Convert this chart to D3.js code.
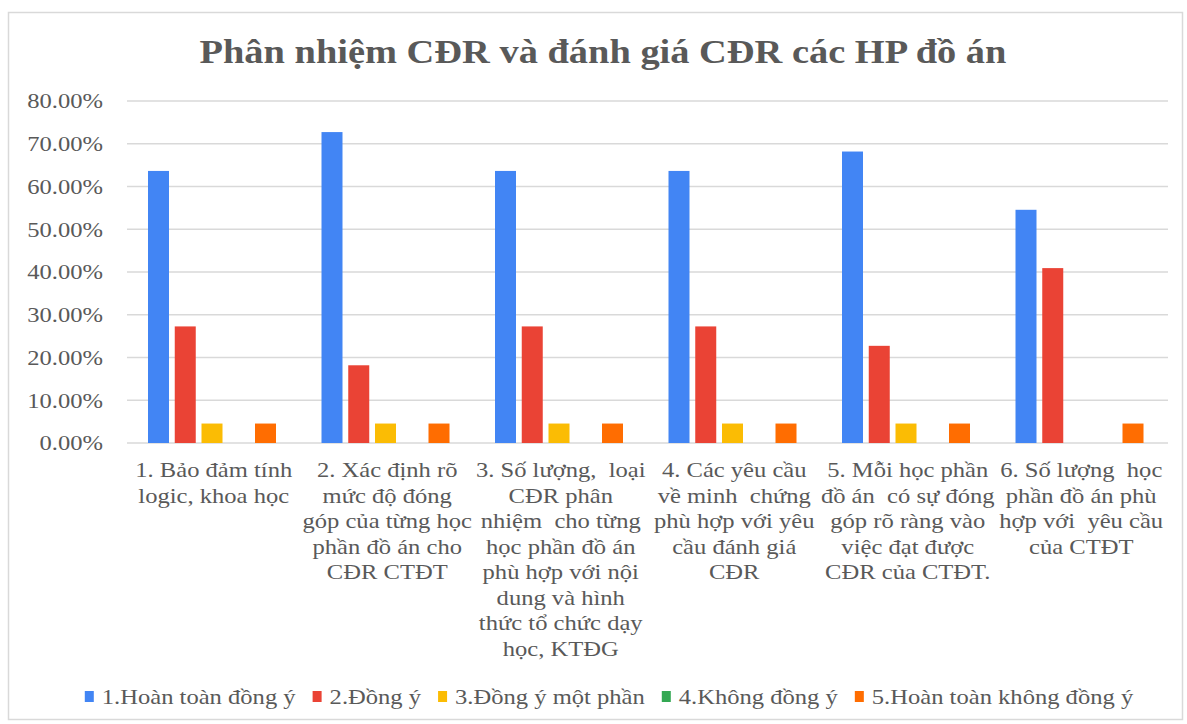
<!DOCTYPE html>
<html>
<head>
<meta charset="utf-8">
<script src="https://d3js.org/d3.v7.min.js"></script>
<style>
  body { margin: 0; background: #fff; }
  svg, svg text { font-family: "Liberation Serif", "Times New Roman", "DejaVu Serif", serif !important; }
  svg text { fill: #595959; white-space: pre; }
</style>
</head>
<body>
<div id="chart"></div>
<script>
// Phân nhiệm CĐR - grouped bars
const title = "Phân nhiệm CĐR và đánh giá CĐR các HP đồ án";

const categories = [
    ["1. Bảo đảm tính", "logic, khoa học"],
    ["2. Xác định rõ", "mức độ đóng", "góp của từng học", "phần đồ án cho", "CĐR CTĐT"],
    ["3. Số lượng,  loại", "CĐR phân", "nhiệm  cho từng", "học phần đồ án", "phù hợp với nội", "dung và hình", "thức tổ chức dạy", "học, KTĐG"],
    ["4. Các yêu cầu", "về minh  chứng", "phù hợp với yêu", "cầu đánh giá", "CĐR"],
    ["5. Mỗi học phần", "đồ án  có sự đóng", "góp rõ ràng vào", "việc đạt được", "CĐR của CTĐT."],
    ["6. Số lượng  học", "phần đồ án phù", "hợp với  yêu cầu", "của CTĐT"]
];

const seriesNames = ["1.Hoàn toàn đồng ý", "2.Đồng ý", "3.Đồng ý một phần", "4.Không đồng ý", "5.Hoàn toàn không đồng ý"];
const seriesColors = ["#4285F4", "#EA4335", "#FBBC04", "#34A853", "#FF6D01"];

const hoanToanDongY = [0.6364, 0.7273, 0.6364, 0.6364, 0.6818, 0.5455];
const dongY = [0.2727, 0.1818, 0.2727, 0.2727, 0.2273, 0.4091];
const dongYMotPhan = [0.0455, 0.0455, 0.0455, 0.0455, 0.0455, 0];
const khongDongY = [0, 0, 0, 0, 0, 0];
const hoanToanKhongDongY = [0.0455, 0.0455, 0.0455, 0.0455, 0.0455, 0.0455];

const seriesValues = [hoanToanDongY, dongY, dongYMotPhan, khongDongY, hoanToanKhongDongY];
const yTicks = [0, 0.1, 0.2, 0.3, 0.4, 0.5, 0.6, 0.7, 0.8];

const width = 1187, height = 724;
const K = 1.17; // horizontal stretch of the source picture

// stretch text horizontally like the reference, returns new width
const stretch = (sel, k) => {
    let total = 0;
    sel.each(function () {
        const w = this.getComputedTextLength();
        this.setAttribute('textLength', w * k);
        this.setAttribute('lengthAdjust', 'spacingAndGlyphs');
        total = w * k;
    });
    return total;
};

const svg = d3.select('#chart').append('svg')
    .attr('width', width)
    .attr('height', height)
    .attr('font-family', '"Liberation Serif", serif');

svg.append('rect')
    .attr('x', 8.5).attr('y', 12.5)
    .attr('width', 1174).attr('height', 707)
    .attr('fill', '#fff')
    .attr('stroke', '#d9d9d9')
    .attr('stroke-width', 1.5);

svg.append('text')
    .attr('x', 603).attr('y', 63)
    .attr('text-anchor', 'middle')
    .attr('font-size', 34)
    .attr('font-weight', 'bold')
    .text(title)
    .call(stretch, 1.13);

const x0 = d3.scaleBand()
    .domain(d3.range(categories.length))
    .range([127, 1168]);

const x1 = d3.scaleBand()
    .domain(d3.range(seriesNames.length))
    .range([21, 149])
    .paddingInner(0.215);

const y = d3.scaleLinear()
    .domain([0, 0.8])
    .range([443, 101]);

// gridlines
svg.append('g')
    .selectAll('line')
    .data(yTicks)
    .join('line')
    .attr('x1', 127).attr('x2', 1168)
    .attr('y1', d => y(d)).attr('y2', d => y(d))
    .attr('stroke', '#d9d9d9')
    .attr('stroke-width', 1.5);

// y axis labels
const yAxis = svg.append('g')
    .attr('transform', 'translate(103,0)')
    .call(d3.axisLeft(y).tickValues(yTicks).tickFormat(d3.format('.2%')).tickSize(0).tickPadding(0));
yAxis.attr('font-family', null).attr('font-size', null);
yAxis.select('.domain').remove();
yAxis.selectAll('text')
    .attr('font-size', 21)
    .attr('fill', null)
    .attr('dy', '0.33em')
    .call(stretch, K);

// bars
const groups = svg.append('g')
    .selectAll('g')
    .data(categories.map((c, i) => i))
    .join('g')
    .attr('transform', i => `translate(${x0(i)},0)`);

groups.selectAll('rect')
    .data(i => seriesValues.map((vals, s) => ({ s, v: vals[i] })))
    .join('rect')
    .attr('x', d => x1(d.s))
    .attr('width', x1.bandwidth())
    .attr('y', d => y(d.v))
    .attr('height', d => y(0) - y(d.v))
    .attr('fill', d => seriesColors[d.s]);

// category labels
categories.forEach((lines, i) => {
    const cx = x0(i) + x0.bandwidth() / 2;
    svg.append('g')
        .selectAll('text')
        .data(lines)
        .join('text')
        .attr('x', cx)
        .attr('y', (d, j) => 477 + j * 25.5)
        .attr('text-anchor', 'middle')
        .attr('font-size', 21)
        .text(d => d)
        .call(stretch, K);
});

// legend
const legend = svg.append('g');
const gap = 17;
let lx = 0;
seriesNames.forEach((name, s) => {
    const item = legend.append('g').attr('transform', `translate(${lx},0)`);
    item.append('rect')
        .attr('x', 0).attr('y', 691)
        .attr('width', 9).attr('height', 11)
        .attr('fill', seriesColors[s]);
    const t = item.append('text')
        .attr('x', 17).attr('y', 704)
        .attr('font-size', 21)
        .text(name);
    const w = stretch(t, K);
    lx += 17 + w + gap;
});
legend.attr('transform', `translate(${609 - (lx - gap) / 2},0)`);
</script>
</body>
</html>
